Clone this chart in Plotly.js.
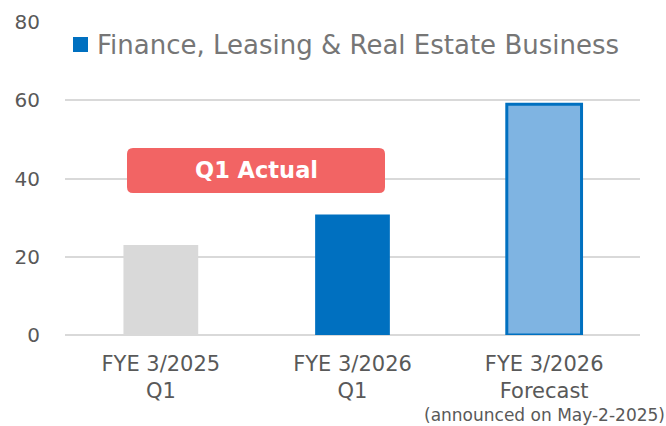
<!DOCTYPE html>
<html>
<head>
<meta charset="utf-8">
<script src="https://cdn.plot.ly/plotly-3.0.1.min.js"></script>
<style>html,body{margin:0;padding:0;background:#fff;}#chart{width:666px;height:426px;}</style>
</head>
<body>
<div id="chart"></div>
<script>
const categories = ["FYE 3/2025<br>Q1", "FYE 3/2026<br>Q1", "FYE 3/2026<br>Forecast"];
const values = [23.0, 30.8, 59.0];
const barColors = ["#D9D9D9", "#0070C0", "#7FB4E2"];
const seriesName = "Finance, Leasing & Real Estate Business";
const yTicks = [0, 20, 40, 60, 80];

const L = 65, R = 640, T = 22, B = 335;
const px = x => (x - L) / (R - L);
const py = y => (B - y) / (B - T);

const FONT = "DejaVu Sans, Verdana, sans-serif";

function roundRect(x0, y0, x1, y1, r) {
  const pts = s => `${px(s[0])},${py(s[1])}`;
  return `M${pts([x0 + r, y0])} L${pts([x1 - r, y0])} Q${pts([x1, y0])} ${pts([x1, y0 + r])} ` +
         `L${pts([x1, y1 - r])} Q${pts([x1, y1])} ${pts([x1 - r, y1])} L${pts([x0 + r, y1])} ` +
         `Q${pts([x0, y1])} ${pts([x0, y1 - r])} L${pts([x0, y0 + r])} Q${pts([x0, y0])} ${pts([x0 + r, y0])} Z`;
}

const trace = {
  type: "bar",
  x: [0, 1, 2],
  y: values,
  width: 0.39,
  marker: {
    color: barColors,
    line: { color: ["#0070C0", "#0070C0", "#0070C0"], width: [0, 0, 3] }
  },
  showlegend: false,
  hoverinfo: "none"
};

const layout = {
  width: 666, height: 426,
  margin: { l: L, r: 666 - R, t: T, b: 426 - B },
  paper_bgcolor: "#fff", plot_bgcolor: "#fff",
  font: { family: FONT, color: "#595959" },
  xaxis: {
    range: [-0.5, 2.5],
    tickvals: [0, 1, 2],
    ticktext: categories,
    tickfont: { size: 21, color: "#595959", family: FONT },
    showgrid: false, zeroline: false,
    showline: false, ticks: "",
    ticklabelstandoff: 14,
    fixedrange: true
  },
  yaxis: {
    range: [0, 80],
    tickvals: yTicks,
    tickfont: { size: 20, color: "#595959", family: FONT },
    showgrid: true, gridcolor: "#D9D9D9", gridwidth: 2,
    zeroline: true, zerolinecolor: "#D9D9D9", zerolinewidth: 2,
    showline: false, ticks: "",
    ticklabelstandoff: 24,
    fixedrange: true
  },
  shapes: [
    { type: "rect", xref: "paper", yref: "paper",
      x0: px(73), x1: px(88), y0: py(52), y1: py(37),
      fillcolor: "#0070C0", line: { width: 0 } },
    { type: "path", xref: "paper", yref: "paper",
      path: roundRect(127, 148, 385, 193, 6),
      fillcolor: "#F26464", line: { width: 0 } }
  ],
  annotations: [
    { xref: "paper", yref: "paper", x: px(95), y: py(45), xanchor: "left", yanchor: "middle",
      text: seriesName, showarrow: false, font: { size: 26, color: "#767676", family: FONT } },
    { xref: "paper", yref: "paper", x: px(256), y: py(170), xanchor: "center", yanchor: "middle",
      text: "<b>Q1 Actual</b>", showarrow: false, font: { size: 22.5, color: "#FFFFFF", family: FONT } },
    { xref: "paper", yref: "paper", x: px(667), y: py(415), xanchor: "right", yanchor: "middle",
      text: "(announced on May-2-2025)", showarrow: false, font: { size: 17, color: "#595959", family: FONT } }
  ]
};

Plotly.newPlot("chart", [trace], layout, { displayModeBar: false, staticPlot: true });
</script>
</body>
</html>
